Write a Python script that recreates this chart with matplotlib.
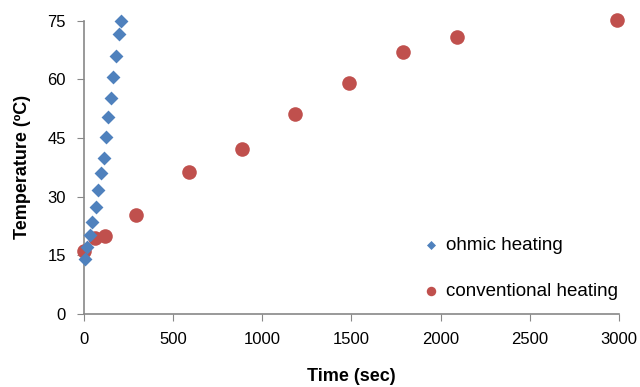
import matplotlib.pyplot as plt

plt.rcParams['font.family'] = ['Liberation Sans', 'DejaVu Sans']

ohmic_time = [4, 20, 32, 48, 66, 82, 97, 112, 122, 137, 150, 162, 182, 196, 211]
ohmic_temp = [14.0, 17.2, 20.3, 23.5, 27.3, 31.7, 36.0, 39.9, 45.4, 50.3, 55.2, 60.6, 65.9, 71.7, 74.9]

conv_time = [0, 60, 120, 290, 590, 885, 1185, 1485, 1790, 2090, 2990]
conv_temp = [16.2, 19.4, 20.0, 25.3, 36.3, 42.2, 51.2, 59.1, 67.1, 70.9, 75.2]

xticks = [0, 500, 1000, 1500, 2000, 2500, 3000]
yticks = [0, 15, 30, 45, 60, 75]

fig = plt.figure(figsize=(6.4, 3.87), dpi=100)
ax = fig.add_axes([0.131, 0.189, 0.836, 0.757])

ax.scatter(conv_time, conv_temp, marker='o', s=110, color='#C0504D', label='conventional heating',
           clip_on=False, zorder=3, linewidths=0)
ax.scatter(ohmic_time, ohmic_temp, marker='D', s=50, color='#4F81BD', label='ohmic heating',
           clip_on=False, zorder=4, linewidths=0)

ax.set_xlim(0, 3000)
ax.set_ylim(0, 75)
ax.set_xticks(xticks)
ax.set_yticks(yticks)
ax.tick_params(direction='out', length=5, color='#888888', labelsize=12, pad=8)
for side in ['top', 'right']:
    ax.spines[side].set_visible(False)
for side in ['left', 'bottom']:
    ax.spines[side].set_color('#888888')
    ax.spines[side].set_linewidth(1.2)

ax.set_xlabel('Time (sec)', fontsize=13, fontweight='bold', labelpad=15)
ax.set_ylabel('Temperature (ºC)', fontsize=13, fontweight='bold', labelpad=12)

handles, labels = ax.get_legend_handles_labels()
ax.legend(handles[::-1], labels[::-1], loc='lower right', bbox_to_anchor=(1.03, -0.01),
          frameon=False, fontsize=13.5, markerscale=0.65, labelspacing=1.55,
          handletextpad=0.3, handlelength=1.0)

fig.savefig('out.png', dpi=100)
